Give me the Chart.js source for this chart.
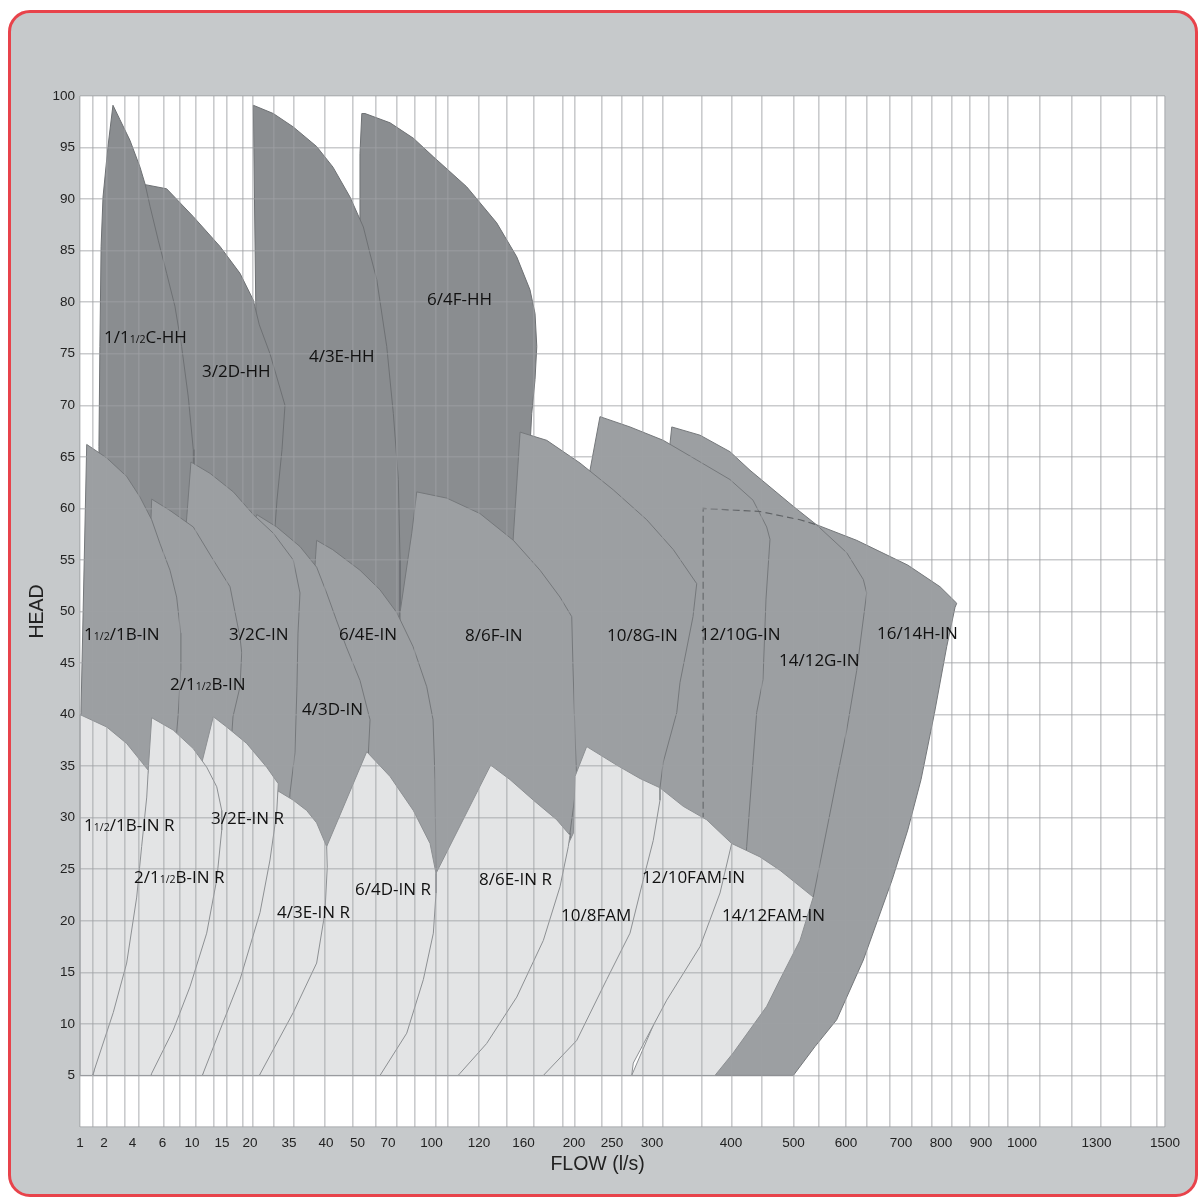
<!DOCTYPE html>
<html>
<head>
<meta charset="utf-8">
<script src="https://cdn.jsdelivr.net/npm/chart.js@4.4.1/dist/chart.umd.min.js"></script>
<style>
  html, body { margin: 0; padding: 0; background: #ffffff; }
  #panel {
    position: absolute; left: 8px; top: 10px; width: 1190px; height: 1187px;
    box-sizing: border-box; border: 3px solid #e8434b; border-radius: 22px; background: #c6c9cb;
  }
  #chart { position: absolute; left: 0; top: 0; }
</style>
</head>
<body>
<div id="panel"></div>
<canvas id="chart" width="1198" height="1197"></canvas>
<script>
// Flow axis: tick labels and where each one sits along the axis (0 = left, 1 = right)
const flowTicks = [1, 2, 4, 6, 10, 15, 20, 35, 40, 50, 70, 100, 120, 160, 200, 250, 300, 400, 500, 600, 700, 800, 900, 1000, 1300, 1500];
const flowTickAt = [0, 0.0221, 0.0484, 0.0760, 0.1032, 0.1309, 0.1567, 0.1926, 0.2267, 0.2558, 0.2839, 0.3240, 0.3677, 0.4088, 0.4553, 0.4903, 0.5272, 0.6000, 0.6576, 0.7060, 0.7567, 0.7936, 0.8304, 0.8682, 0.9369, 1];
// vertical grid lines of the chart, in l/s
const gridFlows = [1, 1.53, 2.18, 3.45, 4.41, 6.15, 8.33, 10.6, 13.6, 15.9, 18.7, 21.1, 29.3, 35.7, 39.9, 48.5, 61.9, 76, 88.6, 102, 107, 120, 145, 168, 191, 201, 236, 262, 288, 314, 363, 402, 450, 500, 549, 600, 637, 680, 726, 776, 826, 873, 919, 966, 1073, 1201, 1313, 1399, 1477, 1500];

// Coverage areas [flow l/s, head m]
// HH range
const pump6x4F_HH = [[54.9,47.2],[51.6,70.5],[51.6,88.0],[51.6,94.4],[52.8,98.3],[54.9,98.3],[71.4,97.4],[87.5,95.9],[100.8,94.1],[114.8,91.2],[135.9,87.7],[153.9,84.4],[165.1,81.2],[169.1,78.9],[170.5,75.7],[169.1,72.5],[166.5,69.2],[165.1,66.0],[158.7,58.9],[152.4,53.1],[81.7,47.2]];
const pump4x3E_HH = [[23.85,46.3],[23.08,70.5],[22.31,77.8],[21.27,99.1],[28.96,98.3],[35.58,97.0],[38.74,95.1],[42.22,93.1],[47.62,90.2],[53.8,87.3],[58.2,84.7],[62.6,82.2],[69.15,75.7],[73.66,69.2],[77.1,62.8],[78.28,55.0],[78.28,46.3]];
const pump3x2D_HH = [[5.17,55.0],[5.17,80.2],[4.85,91.4],[6.57,91.0],[10.22,88.3],[14.67,85.4],[18.21,82.8],[21.27,80.2],[23.58,77.8],[27.69,75.0],[33.46,70.0],[32.31,65.7],[30.38,60.8],[29.62,58.2],[29.62,55.0]];
const pump1x1halfC_HH = [[1.83,55.0],[1.79,66.0],[1.83,75.7],[1.88,85.4],[1.96,90.2],[2.28,95.1],[2.63,99.1],[3.12,97.7],[3.82,95.7],[4.5,93.1],[4.85,91.4],[5.17,89.3],[5.72,86.0],[6.57,82.8],[7.69,79.6],[8.6,75.7],[9.5,70.8],[10.22,65.7],[10.33,62.8],[10.33,55.0]];

// IN range
const pump16x14H_IN = [[364.6,5.0],[364.6,60.0],[446.4,59.7],[512.4,58.9],[544.7,58.4],[619.5,56.9],[716.8,54.5],[797.5,52.4],[839.3,50.8],[835,50.4],[814.2,46.6],[783.3,40.1],[750,33.7],[716.8,28.8],[684,24.0],[631.5,16.2],[582.2,10.4],[540.9,7.8],[499.7,5.0]];
const pump14x12G_IN = [[320.3,21.5],[320.3,63.7],[322.8,66.3],[325.0,67.9],[360.8,67.1],[398.7,65.5],[430.4,63.7],[499.7,60.2],[544.1,58.4],[601.3,55.7],[631.5,53.1],[637.6,51.8],[619.5,44.3],[601.3,38.5],[582.2,33.7],[563.2,28.8],[537.6,22.3],[494.4,21.5]];
const pump12x10G_IN = [[234.2,22.0],[221.1,55.0],[221.1,63.7],[234.2,68.9],[272.5,67.9],[314.3,66.6],[356.6,64.7],[398.7,62.8],[435.2,60.8],[457.1,58.2],[462.4,57.0],[456.0,51.2],[451.2,43.4],[441.1,40.2],[425.1,27.2],[422.4,24.9],[414.4,22.0]];
const pump10x8G_IN = [[150.6,22.0],[150.6,56.9],[156.9,67.4],[178.4,66.6],[207.9,64.4],[251.6,61.8],[293.4,58.9],[327.0,56.0],[356.6,52.7],[351.9,49.5],[335.4,43.1],[331.3,40.2],[314.3,35.4],[310.1,32.9],[303.8,29.8],[297.5,22.0]];
const pump8x6F_IN = [[78.28,22.0],[78.28,46.3],[78.28,49.9],[86.35,57.6],[89.8,61.6],[106.4,61.0],[120.9,59.5],[150.9,56.9],[173.1,54.0],[188.9,51.4],[198.2,49.5],[199.2,44.6],[201.3,38.2],[203.6,33.4],[196.8,28.5],[196.8,25.9],[188.9,22.0]];
const pump6x4E_IN = [[38.51,22.0],[38.51,54.4],[38.74,56.9],[42.13,56.0],[51.64,54.0],[64.75,52.1],[76.0,49.9],[87.24,46.6],[96.69,42.7],[100.63,39.5],[101.47,33.7],[101.89,24.6],[101.89,22.0]];
const pump4x3D_IN = [[21.92,22.0],[21.92,58.9],[22.58,59.4],[30.27,58.2],[36.49,56.3],[38.74,54.3],[40.22,51.8],[43.27,49.2],[46.4,46.6],[51.64,43.3],[58.2,39.5],[56.89,35.6],[51.64,22.0]];
const pump3x2C_IN = [[9.19,28.8],[9.19,58.2],[9.86,64.5],[13.0,63.4],[17.02,61.6],[21.27,59.4],[28.96,57.6],[35.58,55.0],[36.49,51.8],[36.22,47.9],[36.08,42.7],[35.81,36.3],[35.14,32.4],[34.62,28.8]];
const pump2x1halfB_IN = [[5.17,29.8],[5.23,58.9],[5.28,60.9],[7.02,59.8],[10.22,58.2],[13.55,55.0],[16.43,52.4],[18.21,47.5],[18.52,46.0],[18.21,42.7],[16.96,39.8],[16.43,35.6],[16.43,29.8]];
const pump1halfx1B_IN = [[1.0,31.7],[1.04,40.2],[1.28,66.2],[2.19,64.9],[3.59,63.1],[4.5,61.1],[5.28,58.9],[5.83,56.6],[7.02,54.0],[7.92,51.4],[8.47,47.9],[8.47,44.3],[8.14,40.1],[7.92,38.2],[7.69,35.6],[7.69,31.7]];
// hidden edge of 16/14H-IN, shown dashed
const pump16x14H_hidden = [[364.6,29.8],[364.6,60.0],[446.4,59.7],[512.4,58.9],[544.7,58.4]];

// IN R / FAM range
const pump14x12FAM_IN = [[274.6,5.0],[401.1,27.5],[446.4,26.2],[478.4,24.9],[537.6,22.3],[512.4,18.1],[478.4,14.3],[457.1,11.7],[403.7,7.2],[379.7,5.0]];
const pump12x10FAM_IN = [[175.7,5.0],[310.1,32.9],[339.6,31.1],[369.2,29.8],[401.1,27.5],[386.1,22.7],[360.8,17.5],[318.6,12.3],[276.6,6.2],[274.6,5.0]];
const pump10x8FAM = [[111.2,5.0],[199.5,28.5],[201.3,34.0],[216.7,36.9],[255.9,35.1],[285.0,33.8],[310.1,32.9],[310.1,31.7],[301.6,27.8],[289.1,24.0],[272.5,18.8],[243.0,14.3],[203.6,8.4],[175.7,5.0]];
const pump8x6E_INR = [[64.75,5.0],[101.89,24.6],[130.5,35.1],[147.8,33.7],[167.8,31.7],[186.3,29.8],[196.8,28.3],[195.5,27.2],[188.9,23.3],[175.7,18.1],[153.9,12.6],[126.9,8.1],[112.0,5.2],[111.2,5.0]];
const pump6x4D_INR = [[23.58,5.0],[40.22,27.2],[56.03,36.4],[71.38,34.0],[87.45,30.7],[98.97,27.5],[101.89,24.6],[101.89,22.7],[100.76,18.8],[94.35,14.3],[82.9,9.1],[64.75,5.0]];
const pump4x3E_INR = [[11.72,5.0],[30.77,32.6],[35.58,31.7],[37.39,30.7],[38.74,29.5],[40.22,27.2],[40.41,25.2],[39.86,20.8],[38.74,15.9],[35.58,11.1],[23.58,5.0]];
const pump3x2E_INR = [[5.23,5.0],[11.67,35.4],[13.55,39.8],[15.84,38.8],[19.41,37.2],[26.42,34.9],[30.88,33.3],[30.27,30.5],[27.69,25.9],[23.85,20.8],[18.21,14.3],[14.67,9.4],[11.72,5.0]];
const pump2x1halfB_INR = [[1.55,5.0],[5.05,34.6],[5.28,39.7],[7.46,38.5],[10.22,36.7],[12.45,34.9],[14.12,33.0],[14.95,30.7],[14.95,28.8],[14.12,24.0],[12.45,18.8],[9.73,13.6],[7.46,9.4],[5.28,5.2],[5.23,5.0]];
const pump1halfx1B_INR = [[1.0,5.0],[1.0,40.0],[2.19,38.8],[3.59,37.2],[5.05,34.6],[4.95,32.0],[4.61,27.2],[4.28,22.3],[3.59,15.9],[2.65,11.1],[1.55,5.2],[1.5,5.0]];

// Model names: [text, flow at left of text, head at middle of text]
const modelLabels = [
    ['1/1½C-HH', 2.0, 76.6], ['3/2D-HH', 11.67, 73.3], ['4/3E-HH', 37.7, 74.8], ['6/4F-HH', 96.9, 80.3],
    ['1½/1B-IN', 1.17, 47.8], ['3/2C-IN', 16.25, 47.8], ['6/4E-IN', 44.1, 47.8], ['8/6F-IN', 114.1, 47.7],
    ['10/8G-IN', 243.4, 47.7], ['12/10G-IN', 360.8, 47.8], ['14/12G-IN', 476.8, 45.3], ['16/14H-IN', 656.4, 47.9],
    ['2/1½B-IN', 7.02, 43.0], ['4/3D-IN', 36.76, 40.5],
    ['1½/1B-IN R', 1.17, 29.3], ['3/2E-IN R', 13.17, 30.0], ['2/1½B-IN R', 4.1, 24.2], ['4/3E-IN R', 30.38, 20.9],
    ['6/4D-IN R', 49.21, 23.1], ['8/6E-IN R', 120, 24.1], ['10/8FAM', 189.7, 20.6], ['12/10FAM-IN', 287.5, 24.2],
    ['14/12FAM-IN', 388.6, 20.6],
];

const colors = {
    hh: '#8a8d90', hhLine: '#6e7174',
    inn: '#9c9fa2', inLine: '#75787b',
    r: '#e3e4e5', rLine: '#8d9093',
    grid: 'rgba(158,161,164,0.55)',
    text: '#111111',
};
const tickFont = "'Liberation Sans', Arial, sans-serif";
const labelFont = "'Open Sans', sans-serif";

// piecewise flow axis
const flowToDecimal = (v) => {
    for (let i = 1; i < flowTicks.length; i++) {
        if (v <= flowTicks[i] || i === flowTicks.length - 1) {
            const t = (v - flowTicks[i - 1]) / (flowTicks[i] - flowTicks[i - 1]);
            return flowTickAt[i - 1] + t * (flowTickAt[i] - flowTickAt[i - 1]);
        }
    }
    return 1;
};
const decimalToFlow = (d) => {
    for (let i = 1; i < flowTickAt.length; i++) {
        if (d <= flowTickAt[i] || i === flowTickAt.length - 1) {
            const t = (d - flowTickAt[i - 1]) / (flowTickAt[i] - flowTickAt[i - 1]);
            return flowTicks[i - 1] + t * (flowTicks[i] - flowTicks[i - 1]);
        }
    }
    return flowTicks[flowTicks.length - 1];
};

class FlowScale extends Chart.LinearScale {
    static id = 'flow';
    determineDataLimits() {
        this.min = flowTicks[0];
        this.max = flowTicks[flowTicks.length - 1];
    }
    buildTicks() {
        const values = this.id === 'xg' ? gridFlows : flowTicks;
        return values.map(value => ({ value }));
    }
    getPixelForValue(value) {
        return this.getPixelForDecimal(flowToDecimal(value));
    }
    getValueForPixel(pixel) {
        return decimalToFlow(this.getDecimalForPixel(pixel));
    }
}
Chart.register(FlowScale);

const region = (points, fill, line) => ({
    data: [...points, points[0]].map(([x, y]) => ({ x, y })),
    backgroundColor: fill,
    borderColor: line,
    borderWidth: 1,
    fill: 'shape',
    pointRadius: 0,
    tension: 0,
});

// back to front
const layers = [
    region(pump6x4F_HH, colors.hh, colors.hhLine),
    region(pump4x3E_HH, colors.hh, colors.hhLine),
    region(pump3x2D_HH, colors.hh, colors.hhLine),
    region(pump1x1halfC_HH, colors.hh, colors.hhLine),
    region(pump16x14H_IN, colors.inn, colors.inLine),
    region(pump14x12G_IN, colors.inn, colors.inLine),
    region(pump12x10G_IN, colors.inn, colors.inLine),
    region(pump10x8G_IN, colors.inn, colors.inLine),
    region(pump8x6F_IN, colors.inn, colors.inLine),
    region(pump6x4E_IN, colors.inn, colors.inLine),
    region(pump4x3D_IN, colors.inn, colors.inLine),
    region(pump3x2C_IN, colors.inn, colors.inLine),
    region(pump2x1halfB_IN, colors.inn, colors.inLine),
    region(pump1halfx1B_IN, colors.inn, colors.inLine),
    {
        data: pump16x14H_hidden.map(([x, y]) => ({ x, y })),
        borderColor: '#5f6265', borderWidth: 1.2, borderDash: [7, 4], fill: false, pointRadius: 0,
    },
    region(pump14x12FAM_IN, colors.r, colors.rLine),
    region(pump12x10FAM_IN, colors.r, colors.rLine),
    region(pump10x8FAM, colors.r, colors.rLine),
    region(pump8x6E_INR, colors.r, colors.rLine),
    region(pump6x4D_INR, colors.r, colors.rLine),
    region(pump4x3E_INR, colors.r, colors.rLine),
    region(pump3x2E_INR, colors.r, colors.rLine),
    region(pump2x1halfB_INR, colors.r, colors.rLine),
    region(pump1halfx1B_INR, colors.r, colors.rLine),
];
layers.forEach((ds, i) => { ds.order = layers.length - i; });

// draws "1½" as 1 + small 1/2, like the printed chart
const drawModelName = (ctx, text, x, y, size) => {
    const parts = text.split('½');
    let cx = x;
    parts.forEach((part, i) => {
        ctx.font = `${size}px ${labelFont}`;
        ctx.fillText(part, cx, y);
        cx += ctx.measureText(part).width;
        if (i < parts.length - 1) {
            ctx.font = `${size * 0.62}px ${labelFont}`;
            ctx.fillText('1/2', cx, y);
            cx += ctx.measureText('1/2').width;
        }
    });
};

// white plot area under the grid
const plotBackground = {
    id: 'plotBackground',
    beforeDraw(chart) {
        const { ctx, chartArea: a } = chart;
        ctx.save();
        ctx.fillStyle = '#ffffff';
        ctx.fillRect(a.left, a.top, a.right - a.left, a.bottom - a.top);
        ctx.restore();
    },
};

const chartText = {
    id: 'chartText',
    afterDraw(chart) {
        const { ctx, chartArea, scales } = chart;
        ctx.save();
        ctx.fillStyle = colors.text;
        ctx.textAlign = 'left';
        ctx.textBaseline = 'alphabetic';
        modelLabels.forEach(([text, flow, head]) => {
            const x = scales.x.getPixelForValue(flow);
            const y = scales.y.getPixelForValue(head) + 6;
            drawModelName(ctx, text, x, y, 17);
        });
        ctx.fillStyle = '#222';
        ctx.textAlign = 'center';
        ctx.textBaseline = 'middle';
        ctx.font = `19.5px ${tickFont}`;
        ctx.fillText('FLOW (l/s)', chartArea.left + (chartArea.right - chartArea.left) * 0.477, chartArea.bottom + 38);
        ctx.restore();
    },
};

new Chart(document.getElementById('chart'), {
    type: 'line',
    data: { datasets: layers },
    options: {
        responsive: false,
        animation: false,
        events: [],
        layout: { padding: { left: 20, top: 96, right: 33, bottom: 0 } },
        plugins: {
            legend: { display: false },
            tooltip: { enabled: false },
        },
        scales: {
            x: {
                type: 'flow',
                position: 'bottom',
                grid: { display: false },
                border: { display: false },
                ticks: {
                    autoSkip: false, maxRotation: 0, minRotation: 0, padding: 0,
                    color: '#222', font: { family: tickFont, size: 13.5 },
                    callback: (value) => String(value),
                },
                afterFit: (scale) => { scale.height = 70; },
            },
            xg: {
                type: 'flow',
                position: 'bottom',
                grid: { color: colors.grid, lineWidth: 1.6, drawTicks: false, z: 1 },
                border: { display: false },
                ticks: { display: false },
                afterFit: (scale) => { scale.height = 0; },
            },
            y: {
                type: 'linear',
                position: 'left',
                min: 0,
                max: 100,
                grid: { color: colors.grid, lineWidth: 1.6, drawTicks: false, z: 1 },
                border: { display: false },
                ticks: {
                    stepSize: 5, padding: 5, color: '#222', font: { family: tickFont, size: 13.5 },
                    callback: (value) => (value === 0 ? '' : String(value)),
                },
                title: {
                    display: true, text: 'HEAD', color: '#222',
                    font: { family: tickFont, size: 19.5 }, padding: { top: 6, bottom: 0 },
                },
                afterFit: (scale) => { scale.width = 60; },
            },
        },
    },
    plugins: [plotBackground, chartText],
});
</script>
</body>
</html>
